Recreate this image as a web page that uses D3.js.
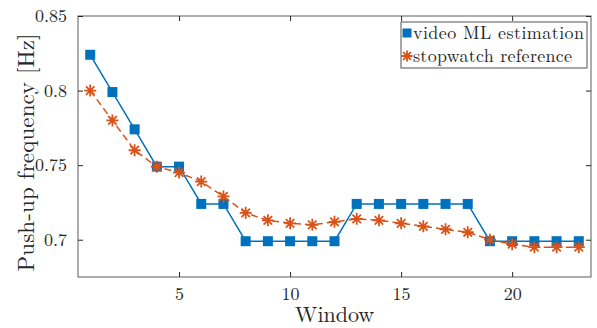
<!DOCTYPE html>
<html>
<head>
<meta charset="utf-8">
<script src="https://cdn.jsdelivr.net/npm/d3@7"></script>
<style>
  body { margin: 0; background: #fff; }
  text { font-family: "Latin Modern Roman", "CMU Serif", "Liberation Serif", serif; fill: #262626; }
</style>
</head>
<body>
<div id="chart"></div>
<script>
// data
var windows = d3.range(1, 24);
var videoML = [0.824, 0.799, 0.774, 0.749, 0.749, 0.724, 0.724, 0.699, 0.699, 0.699, 0.699, 0.699,
               0.724, 0.724, 0.724, 0.724, 0.724, 0.724, 0.699, 0.699, 0.699, 0.699, 0.699];
var stopwatch = [0.800, 0.780, 0.760, 0.749, 0.745, 0.739, 0.729, 0.718, 0.713, 0.711, 0.710, 0.712,
                 0.714, 0.713, 0.711, 0.709, 0.707, 0.705, 0.700, 0.697, 0.695, 0.695, 0.695];
var xTicks = [5, 10, 15, 20];
var yTicks = [0.7, 0.75, 0.8, 0.85];
var yTickLabels = ["0.7", "0.75", "0.8", "0.85"];
var seriesNames = ["video ML estimation", "stopwatch reference"];

var W = 597, H = 328;
var margin = {top: 16, right: 6, bottom: 51, left: 78};
var width = W - margin.left - margin.right;
var height = H - margin.top - margin.bottom;

var blue = "#0072BD", orange = "#D95319", axisCol = "#262626";

var svg = d3.select("#chart").append("svg")
  .attr("width", W).attr("height", H)
  .append("g")
  .attr("transform", "translate(" + margin.left + "," + margin.top + ")");

var x = d3.scaleLinear().domain([0.45, 23.55]).range([0, width]);
var y = d3.scaleLinear().domain([0.675, 0.85]).range([height, 0]);

// axes (box on, ticks inside)
var tickLen = 5;
svg.append("g")
  .attr("transform", "translate(0," + height + ")")
  .call(d3.axisBottom(x).tickValues(xTicks).tickSizeInner(-tickLen).tickSizeOuter(0).tickPadding(10))
  .call(g => g.select(".domain").remove())
  .call(g => g.selectAll("text").style("font-size", "18px").attr("fill", axisCol));
svg.append("g")
  .call(d3.axisLeft(y).tickValues(yTicks).tickFormat((d, i) => yTickLabels[i])
    .tickSizeInner(-tickLen).tickSizeOuter(0).tickPadding(11))
  .call(g => g.select(".domain").remove())
  .call(g => g.selectAll("text").style("font-size", "18px").attr("fill", axisCol));
svg.append("g")
  .call(d3.axisTop(x).tickValues(xTicks).tickSizeInner(-tickLen).tickSizeOuter(0).tickFormat(""))
  .call(g => g.select(".domain").remove());
svg.append("g")
  .attr("transform", "translate(" + width + ",0)")
  .call(d3.axisRight(y).tickValues(yTicks).tickSizeInner(-tickLen).tickSizeOuter(0).tickFormat(""))
  .call(g => g.select(".domain").remove());
svg.selectAll(".tick line").attr("stroke", axisCol).attr("stroke-width", 1);

svg.append("rect")
  .attr("x", 0).attr("y", 0).attr("width", width).attr("height", height)
  .attr("fill", "none").attr("stroke", axisCol).attr("stroke-width", 1)
  .attr("stroke-opacity", 0.75);

// axis labels
svg.append("text")
  .attr("x", width / 2).attr("y", height + 45)
  .attr("text-anchor", "middle")
  .style("font-size", "22px")
  .text("Window");
svg.append("text")
  .attr("transform", "translate(" + (34 - margin.left) + "," + (height / 2 + 6) + ") rotate(-90)")
  .attr("text-anchor", "middle")
  .attr("textLength", 238).attr("lengthAdjust", "spacing")
  .style("font-size", "23px")
  .text("Push-up frequency [Hz]");

// lines
var line1 = d3.line().x((d, i) => x(windows[i])).y(d => y(d));
svg.append("path").datum(videoML)
  .attr("d", line1).attr("fill", "none")
  .attr("stroke", blue).attr("stroke-width", 1.5);
svg.append("path").datum(stopwatch)
  .attr("d", line1).attr("fill", "none")
  .attr("stroke", orange).attr("stroke-width", 1.5)
  .attr("stroke-dasharray", "7,4");

// markers
function asterisk(g, r) {
  var d = r * Math.SQRT1_2;
  g.append("path")
    .attr("d", "M" + (-r) + ",0L" + r + ",0M0," + (-r) + "L0," + r +
      "M" + (-d) + "," + (-d) + "L" + d + "," + d + "M" + (-d) + "," + d + "L" + d + "," + (-d))
    .attr("stroke", orange).attr("stroke-width", 1.8).attr("fill", "none");
}

svg.selectAll(".sq").data(videoML).enter().append("rect")
  .attr("class", "sq")
  .attr("x", (d, i) => x(windows[i]) - 5)
  .attr("y", d => y(d) - 5)
  .attr("width", 10).attr("height", 10)
  .attr("fill", blue);

svg.selectAll(".ast").data(stopwatch).enter().append("g")
  .attr("class", "ast")
  .attr("transform", (d, i) => "translate(" + x(windows[i]) + "," + y(d) + ")")
  .each(function() { asterisk(d3.select(this), 6); });

// legend
var lg = svg.append("g").attr("transform", "translate(" + (401 - margin.left) + "," + (22 - margin.top) + ")");
lg.append("rect")
  .attr("width", 186).attr("height", 46)
  .attr("fill", "#fff").attr("stroke", axisCol).attr("stroke-width", 1).attr("stroke-opacity", 0.8);
lg.append("rect").attr("x", 1.5).attr("y", 6.5).attr("width", 9).attr("height", 9).attr("fill", blue);
asterisk(lg.append("g").attr("transform", "translate(6,34)"), 5.5);
lg.selectAll(".lt").data(seriesNames).enter().append("text")
  .attr("class", "lt")
  .attr("x", 12).attr("y", (d, i) => 17 + i * 23)
  .attr("textLength", (d, i) => i === 0 ? 171 : 159).attr("lengthAdjust", "spacing")
  .style("font-size", "18px")
  .text(d => d);
</script>
</body>
</html>
